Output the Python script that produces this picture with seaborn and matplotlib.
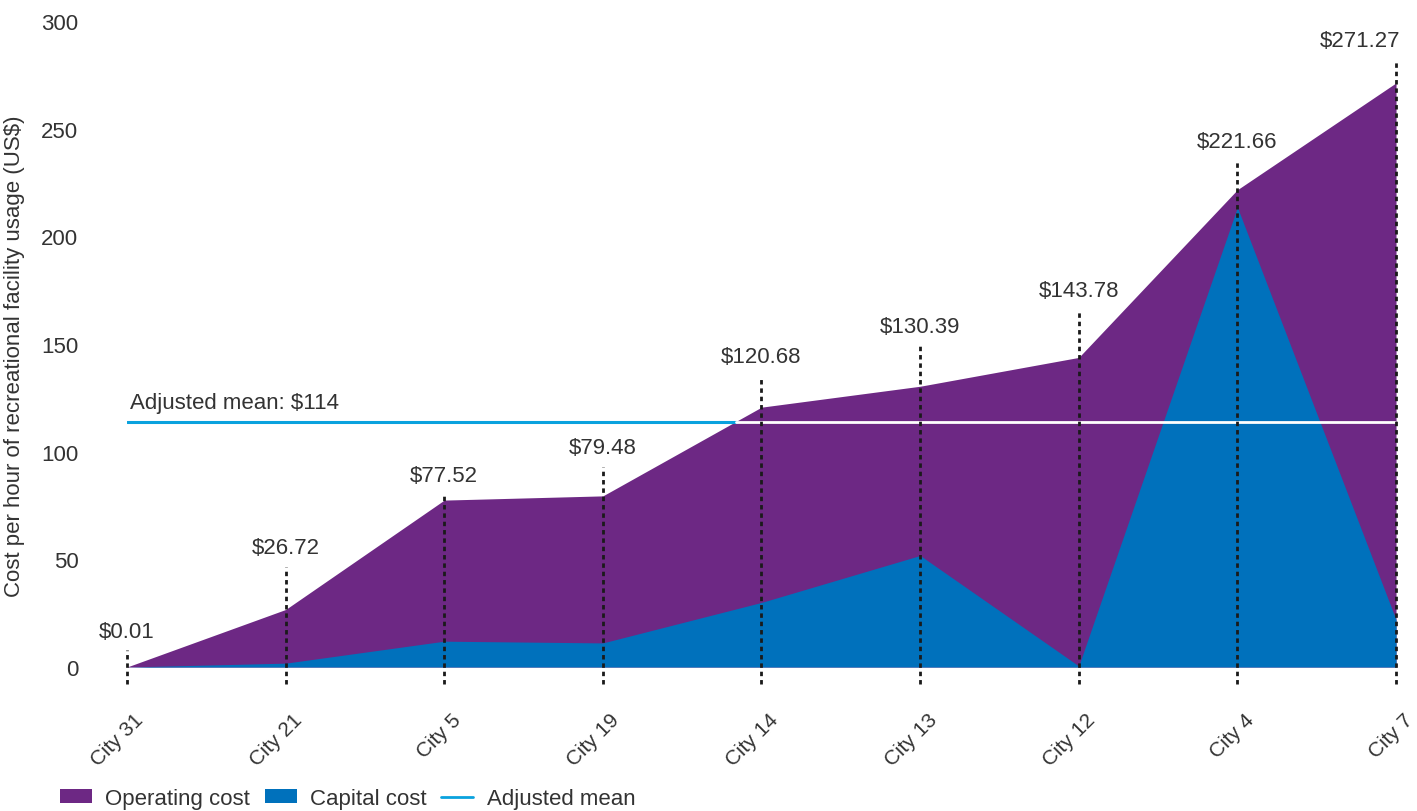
import matplotlib
matplotlib.use("Agg")
import matplotlib.pyplot as plt
import matplotlib.transforms as mtransforms
import seaborn as sns
import numpy as np
import pandas as pd
from matplotlib.patches import Patch
from matplotlib.lines import Line2D

cities = ["City 31", "City 21", "City 5", "City 19", "City 14",
          "City 13", "City 12", "City 4", "City 7"]
total_cost = [0.01, 26.72, 77.52, 79.48, 120.68, 130.39, 143.78, 221.66, 271.27]
capital_cost = [0.0, 1.8, 12.0, 11.2, 30.0, 51.8, 0.5, 213.5, 22.0]
adjusted_mean = 114

# height of the value labels above the axis (layout only)
label_y = [16.7, 55.3, 89, 102, 144, 158, 175, 244, 291]

purple = "#6D2884"
blue = "#0071BC"
light_blue = "#0AA2DE"
text_col = "#333333"
fs = 16

df = pd.DataFrame({"city": cities, "total": total_cost, "capital": capital_cost})
df["x"] = np.arange(len(df))

sns.set_theme(style="white")
plt.rcParams["font.family"] = ["Liberation Sans", "DejaVu Sans"]

fig = plt.figure(figsize=(14.17, 8.12), dpi=100)
ax = fig.add_axes([0.0896, 0.1773, 0.8956, 0.7956])

ax.fill_between(df["x"], 0, df["total"], color=purple, linewidth=0, zorder=1)
ax.fill_between(df["x"], 0, df["capital"], color=blue, linewidth=0, zorder=2)

# where the total first reaches the adjusted mean
i = int(np.argmax(df["total"].values >= adjusted_mean))
x0, x1 = df["x"][i - 1], df["x"][i]
y0, y1 = df["total"][i - 1], df["total"][i]
x_cross = x0 + (adjusted_mean - y0) / (y1 - y0) * (x1 - x0)

sns.lineplot(x=[0, x_cross], y=[adjusted_mean, adjusted_mean], ax=ax,
             color=light_blue, linewidth=2.2, zorder=3)
sns.lineplot(x=[x_cross, df["x"].iloc[-1]], y=[adjusted_mean, adjusted_mean], ax=ax,
             color="white", linewidth=2.0, zorder=3)
ax.text(0.02, adjusted_mean + 9, f"Adjusted mean: ${adjusted_mean}",
        fontsize=fs, color=text_col, ha="left", va="center")

last = len(cities) - 1
for x, v, ly in zip(df["x"], df["total"], label_y):
    ax.plot([x, x], [-8, ly - 9], color="#1a1a1a", linewidth=2,
            linestyle=(0, (1.6, 1.4)), clip_on=False, zorder=4)
    if x == last:
        ax.text(x + 0.03, ly, f"${v:.2f}", fontsize=fs, color=text_col,
                ha="right", va="center", clip_on=False)
    else:
        ax.text(x, ly, f"${v:.2f}", fontsize=fs, color=text_col,
                ha="center", va="center", clip_on=False)

ax.set_xlim(0, last)
ax.set_ylim(0, 300)
ax.set_yticks([0, 50, 100, 150, 200, 250, 300])
ax.set_xticks(df["x"])
ax.set_xticklabels(cities, rotation=45, ha="right", rotation_mode="anchor")
ax.tick_params(axis="x", length=0, pad=31, labelsize=15, labelcolor=text_col)
ax.tick_params(axis="y", length=0, pad=35, labelsize=fs, labelcolor=text_col)
shift = mtransforms.ScaledTranslation(7 / 100, 0, fig.dpi_scale_trans)
for lbl in ax.get_xticklabels():
    lbl.set_transform(lbl.get_transform() + shift)
ax.set_ylabel("Cost per hour of recreational facility usage (US$)",
              fontsize=fs, color=text_col)
ax.yaxis.set_label_coords(-0.08, 0.483)
sns.despine(ax=ax, left=True, bottom=True)

handles = [
    Patch(facecolor=purple, edgecolor="none", label="Operating cost"),
    Patch(facecolor=blue, edgecolor="none", label="Capital cost"),
    Line2D([0], [0], color=light_blue, linewidth=2, label="Adjusted mean"),
]
fig.legend(handles=handles, loc="lower left", bbox_to_anchor=(0.028, -0.022),
           ncol=3, frameon=False, fontsize=fs, handlelength=1.45,
           handleheight=0.55, handletextpad=0.6, columnspacing=0.65,
           labelcolor=text_col)

fig.savefig("out.png", dpi=100)
